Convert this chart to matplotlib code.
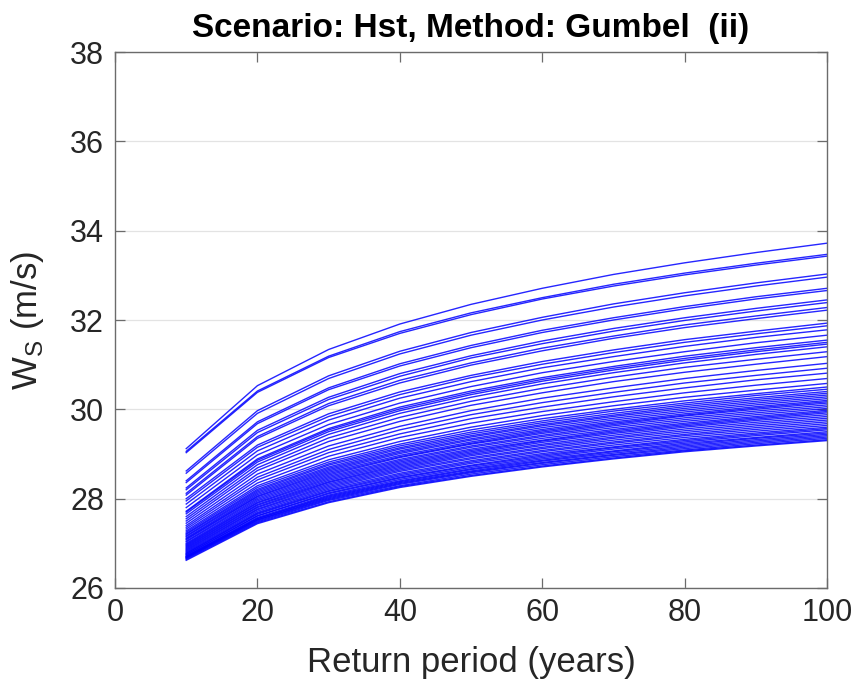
import matplotlib
matplotlib.use("Agg")
import matplotlib.pyplot as plt


return_periods = [10, 20, 30, 40, 50, 60, 70, 80, 90, 100]

# upper (sparse) curves
ws_upper = [
    [29.12, 30.53, 31.34, 31.91, 32.35, 32.71, 33.02, 33.28, 33.51, 33.72],
    [29.06, 30.41, 31.19, 31.74, 32.16, 32.50, 32.80, 33.05, 33.27, 33.47],
    [29.03, 30.38, 31.16, 31.70, 32.12, 32.47, 32.76, 33.01, 33.23, 33.43],
    [28.62, 29.97, 30.75, 31.30, 31.72, 32.06, 32.36, 32.61, 32.83, 33.03],
    [28.57, 29.91, 30.69, 31.24, 31.66, 32.00, 32.29, 32.54, 32.76, 32.96],
    [28.40, 29.72, 30.48, 31.02, 31.43, 31.77, 32.05, 32.30, 32.52, 32.71],
    [28.36, 29.68, 30.44, 30.97, 31.38, 31.72, 32.00, 32.25, 32.47, 32.66],
    [28.24, 29.53, 30.27, 30.80, 31.20, 31.53, 31.81, 32.05, 32.26, 32.45],
    [28.20, 29.48, 30.22, 30.74, 31.15, 31.47, 31.75, 31.99, 32.20, 32.39],
    [28.12, 29.39, 30.13, 30.65, 31.04, 31.37, 31.64, 31.89, 32.09, 32.28],
    [28.08, 29.35, 30.08, 30.59, 30.99, 31.31, 31.59, 31.83, 32.03, 32.22],
]

# middle curves
ws_middle = [
    [28.00, 29.20, 29.90, 30.39, 30.76, 31.07, 31.33, 31.56, 31.75, 31.93],
    [27.95, 29.15, 29.84, 30.33, 30.71, 31.01, 31.27, 31.50, 31.69, 31.87],
    [27.88, 29.07, 29.76, 30.25, 30.62, 30.93, 31.18, 31.41, 31.61, 31.78],
    [27.80, 28.98, 29.66, 30.14, 30.51, 30.82, 31.07, 31.29, 31.49, 31.66],
    [27.72, 28.89, 29.57, 30.05, 30.41, 30.71, 30.96, 31.19, 31.38, 31.55],
    [27.70, 28.86, 29.54, 30.01, 30.37, 30.67, 30.92, 31.14, 31.33, 31.50],
    [27.66, 28.82, 29.50, 29.97, 30.33, 30.63, 30.88, 31.10, 31.29, 31.46],
    [27.60, 28.76, 29.44, 29.91, 30.27, 30.57, 30.82, 31.04, 31.23, 31.40],
    [27.55, 28.69, 29.36, 29.82, 30.18, 30.47, 30.72, 30.94, 31.12, 31.29],
    [27.50, 28.63, 29.28, 29.73, 30.09, 30.37, 30.62, 30.83, 31.01, 31.18],
    [27.45, 28.55, 29.18, 29.62, 29.97, 30.25, 30.48, 30.69, 30.87, 31.03],
    [27.40, 28.48, 29.10, 29.54, 29.88, 30.15, 30.38, 30.59, 30.76, 30.92],
    [27.36, 28.42, 29.03, 29.45, 29.79, 30.05, 30.28, 30.48, 30.66, 30.81],
    [27.32, 28.35, 28.95, 29.37, 29.69, 29.95, 30.17, 30.37, 30.54, 30.69],
    [27.28, 28.29, 28.87, 29.28, 29.60, 29.86, 30.08, 30.27, 30.43, 30.58],
]

# lower (dense) curves
ws_lower = [
    [27.25, 28.25, 28.82, 29.22, 29.54, 29.79, 30.00, 30.19, 30.35, 30.50],
    [27.22, 28.21, 28.78, 29.18, 29.49, 29.74, 29.96, 30.14, 30.31, 30.45],
    [27.20, 28.18, 28.75, 29.14, 29.45, 29.70, 29.91, 30.10, 30.26, 30.40],
    [27.17, 28.15, 28.71, 29.11, 29.41, 29.66, 29.87, 30.06, 30.22, 30.36],
    [27.15, 28.12, 28.68, 29.07, 29.38, 29.63, 29.84, 30.02, 30.18, 30.32],
    [27.12, 28.09, 28.65, 29.04, 29.34, 29.59, 29.80, 29.98, 30.14, 30.28],
    [27.10, 28.06, 28.62, 29.01, 29.31, 29.55, 29.76, 29.94, 30.10, 30.24],
    [27.08, 28.04, 28.59, 28.97, 29.27, 29.52, 29.72, 29.90, 30.06, 30.20],
    [27.05, 28.01, 28.56, 28.94, 29.24, 29.49, 29.69, 29.87, 30.03, 30.17],
    [27.03, 27.98, 28.53, 28.92, 29.22, 29.46, 29.66, 29.85, 30.00, 30.14],
    [27.00, 27.95, 28.50, 28.88, 29.18, 29.42, 29.63, 29.81, 29.96, 30.10],
    [26.98, 27.92, 28.47, 28.85, 29.15, 29.39, 29.59, 29.77, 29.92, 30.06],
    [26.96, 27.90, 28.44, 28.82, 29.11, 29.35, 29.55, 29.73, 29.88, 30.02],
    [26.94, 27.87, 28.41, 28.79, 29.08, 29.31, 29.52, 29.69, 29.84, 29.98],
    [26.92, 27.85, 28.38, 28.76, 29.05, 29.29, 29.49, 29.66, 29.81, 29.95],
    [26.90, 27.82, 28.36, 28.73, 29.02, 29.26, 29.46, 29.63, 29.78, 29.92],
    [26.88, 27.80, 28.33, 28.70, 28.99, 29.22, 29.42, 29.60, 29.75, 29.88],
    [26.86, 27.77, 28.30, 28.67, 28.96, 29.19, 29.38, 29.56, 29.71, 29.84],
    [26.84, 27.75, 28.27, 28.64, 28.92, 29.15, 29.35, 29.52, 29.67, 29.80],
    [26.82, 27.72, 28.24, 28.61, 28.89, 29.12, 29.31, 29.48, 29.63, 29.76],
    [26.80, 27.69, 28.21, 28.57, 28.85, 29.08, 29.27, 29.44, 29.59, 29.72],
    [26.78, 27.67, 28.18, 28.54, 28.82, 29.05, 29.24, 29.41, 29.55, 29.68],
    [26.77, 27.65, 28.16, 28.51, 28.79, 29.01, 29.20, 29.37, 29.51, 29.64],
    [26.75, 27.62, 28.13, 28.48, 28.75, 28.98, 29.16, 29.33, 29.47, 29.60],
    [26.74, 27.61, 28.11, 28.46, 28.73, 28.95, 29.14, 29.30, 29.44, 29.57],
    [26.72, 27.58, 28.08, 28.43, 28.70, 28.92, 29.11, 29.27, 29.41, 29.54],
    [26.71, 27.56, 28.06, 28.40, 28.67, 28.89, 29.07, 29.24, 29.37, 29.50],
    [26.70, 27.55, 28.04, 28.38, 28.65, 28.86, 29.05, 29.21, 29.35, 29.47],
    [26.69, 27.53, 28.02, 28.36, 28.62, 28.84, 29.02, 29.18, 29.32, 29.44],
    [26.68, 27.52, 28.00, 28.34, 28.60, 28.81, 28.99, 29.15, 29.29, 29.41],
    [26.67, 27.50, 27.98, 28.32, 28.58, 28.79, 28.97, 29.12, 29.26, 29.38],
    [26.66, 27.48, 27.96, 28.29, 28.55, 28.76, 28.94, 29.09, 29.23, 29.35],
    [26.64, 27.46, 27.93, 28.27, 28.52, 28.73, 28.91, 29.07, 29.20, 29.32],
    [26.62, 27.44, 27.91, 28.25, 28.50, 28.71, 28.89, 29.05, 29.18, 29.30],
]

x_ticks = [0, 20, 40, 60, 80, 100]
y_ticks = [26, 28, 30, 32, 34, 36, 38]

plt.rcParams["font.family"] = ["Liberation Sans", "DejaVu Sans"]
plt.rcParams["mathtext.fontset"] = "custom"
plt.rcParams["mathtext.rm"] = "Liberation Sans"

fig = plt.figure(figsize=(8.54, 6.89), dpi=100)
ax = fig.add_axes([0.1347, 0.1466, 0.8337, 0.7779])

for curve in ws_upper + ws_middle + ws_lower:
    ax.plot(return_periods, curve, color="#0000ff", lw=1.0, alpha=0.85)

ax.set_xlim(0, 100)
ax.set_ylim(26, 38)
ax.set_xticks(x_ticks)
ax.set_yticks(y_ticks)
ax.yaxis.grid(True, color="#e3e3e3", lw=0.9)
ax.set_axisbelow(True)

for sp in ax.spines.values():
    sp.set_color("#6b6b6b")
    sp.set_linewidth(1.0)
ax.tick_params(direction="in", length=7, width=0.9, color="#6b6b6b",
               top=True, right=True, labelsize=22, labelcolor="#262626")
ax.tick_params(axis="x", pad=7)
ax.tick_params(axis="y", pad=8)

ax.set_xlabel("Return period (years)", fontsize=25, color="#262626", labelpad=13)
ax.set_ylabel(r"W$_\mathregular{S}$ (m/s)", fontsize=25, color="#262626", labelpad=17)
ax.set_title("Scenario: Hst, Method: Gumbel  (ii)", fontsize=24,
             fontweight="bold", pad=11)

fig.savefig("out.png", dpi=100)
